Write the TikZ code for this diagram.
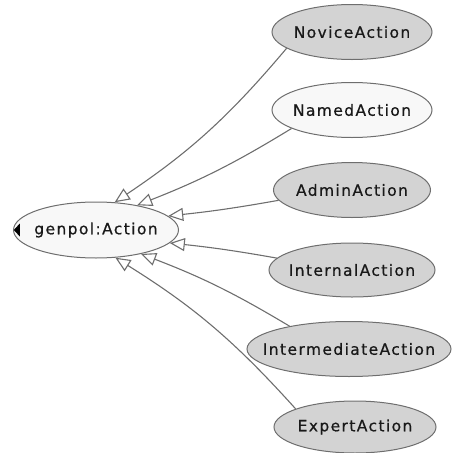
\documentclass[tikz,border=0pt]{standalone}
\usepackage{fontspec}
\setmainfont{DejaVu Sans}
\newfontfamily\nodefont[LetterSpace=9,FakeBold=0.6]{DejaVu Sans}
\usetikzlibrary{shapes.geometric,arrows.meta}
\definecolor{edgegray}{HTML}{6E6E6E}
\definecolor{classgray}{HTML}{D3D3D3}
\definecolor{classwhite}{HTML}{F8F8F8}
\tikzset{
  cls/.style={ellipse, draw=edgegray, fill=classgray, line width=1pt,
    minimum height=55pt, inner xsep=-15pt, inner ysep=0pt,
    font=\nodefont\fontsize{15.5}{18}\selectfont, text=black!90},
  namedcls/.style={cls, fill=classwhite},
  isa/.style={draw=edgegray, line width=1.1pt,
    -{Triangle[length=15pt,width=13pt,fill=white]}},
}

\begin{document}
\begin{tikzpicture}[x=1pt,y=-1pt]
			%%%%% START %%%%%
			\useasboundingbox (0,0) rectangle (451,453);
			
			\node[namedcls, minimum width=165pt, minimum height=56pt] (action) at (96,230) {genpol:Action};
			\fill[black] ([xshift=0.8pt]action.west) -- ++(6,-6.5) -- ++(0,13) -- cycle;
			
			\node[cls, minimum width=160pt] (novice) at (352,32) {NoviceAction};
			\node[namedcls, minimum width=160pt] (named) at (352,110) {NamedAction};
			\node[cls, minimum width=157pt] (admin) at (352,190) {AdminAction};
			\node[cls, minimum width=166pt, minimum height=54pt] (internal) at (352,270) {InternalAction};
			\node[cls, minimum width=204pt] (intermediate) at (349,349) {IntermediateAction};
			\node[cls, minimum width=162pt, minimum height=52pt] (expert) at (355,427) {ExpertAction};
			
			\draw[isa] (novice.194) to[bend left=8] (action.56);
			\draw[isa] (named.197) to[bend left=5] (action.31);
			\draw[isa] (admin.188) to[bend left=2] (action.11.5);
			\draw[isa] (internal.171) to[bend right=2] (action.350.5);
			\draw[isa] (intermediate.159) to[bend right=5] (action.332);
			\draw[isa] (expert.163) to[bend right=8] (action.305);
			
			%%%%% END %%%%%
\end{tikzpicture}
\end{document}
